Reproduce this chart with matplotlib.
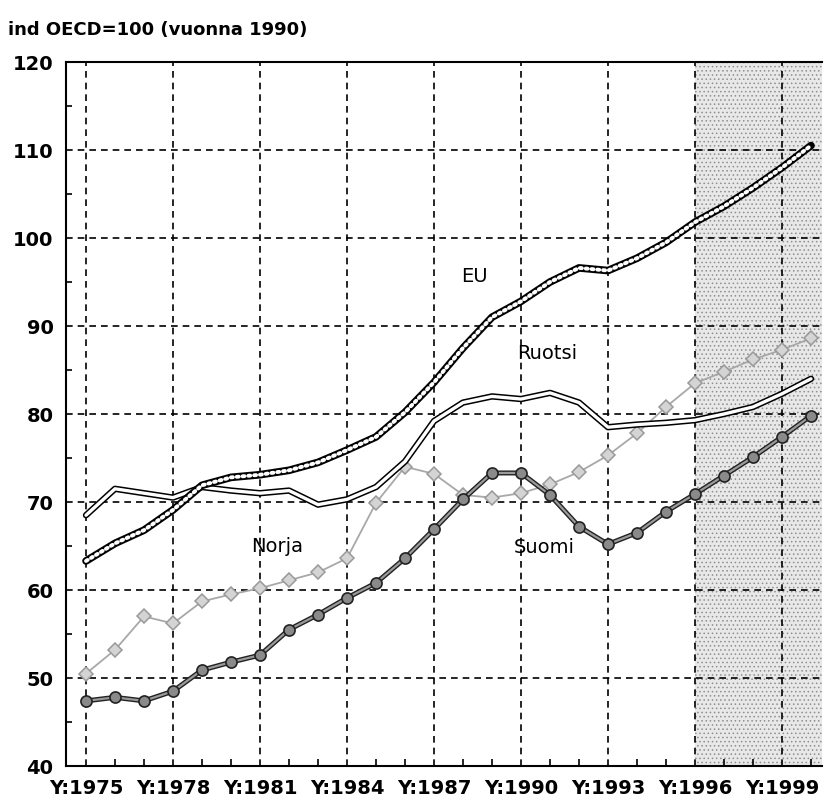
import matplotlib
matplotlib.use("Agg")
import matplotlib.pyplot as plt
from matplotlib.ticker import MultipleLocator

years = list(range(1975, 2001))
eu = [63.3, 65.3, 66.8, 69.1, 71.9, 72.8, 73.1, 73.6, 74.5, 75.9, 77.4, 80.2, 83.6,
      87.5, 91.0, 92.8, 95.0, 96.6, 96.3, 97.7, 99.5, 101.8, 103.6, 105.7, 108.0, 110.5]
ruotsi = [68.5, 71.5, 71.0, 70.5, 71.7, 71.3, 71.0, 71.3, 69.7, 70.3, 71.7, 74.6, 79.2,
          81.3, 82.0, 81.7, 82.4, 81.3, 78.5, 78.8, 79.0, 79.3, 80.0, 80.8, 82.3, 84.0]
norja = [50.5, 53.2, 57.0, 56.2, 58.7, 59.5, 60.2, 61.1, 62.0, 63.6, 69.9, 74.0, 73.2,
         70.8, 70.5, 71.0, 72.0, 73.4, 75.3, 77.8, 80.8, 83.5, 84.8, 86.2, 87.3, 88.6]
suomi = [47.4, 47.8, 47.4, 48.5, 50.9, 51.8, 52.6, 55.5, 57.2, 59.1, 60.8, 63.6, 66.9,
         70.3, 73.3, 73.3, 70.8, 67.2, 65.2, 66.5, 68.9, 70.9, 73.0, 75.1, 77.4, 79.8]
tick_years = [1975, 1978, 1981, 1984, 1987, 1990, 1993, 1996, 1999]
tick_labels = ["Y:" + str(y) for y in tick_years]
title = "ind OECD=100 (vuonna 1990)"
forecast_start = 1996

plt.rcParams['hatch.linewidth'] = 0.6
fig = plt.figure(figsize=(8.28, 8.09), dpi=100)
ax = fig.add_axes([66/828, 1-766/809, (822-66)/828, (766-62)/809])
xmin, xmax = 1974.31, 2000.38
ax.set_xlim(xmin, xmax)
ax.set_ylim(40, 120)

ax.axvspan(forecast_start, xmax, facecolor='#e8e8e8', edgecolor='#8f8f8f',
           hatch='....', lw=0, zorder=0)

for y in range(50, 120, 10):
    ax.axhline(y, color='black', lw=1.2, ls=(0, (4, 3)), zorder=1)
for x in tick_years:
    ax.axvline(x, color='black', lw=1.2, ls=(0, (4, 3)), zorder=1)

# EU: chain of white circles on black
ax.plot(years, eu, color='black', lw=5.5, solid_capstyle='round', zorder=5)
ax.plot(years, eu, color='white', lw=2.8, ls=(0, (0.5, 1.0)), dash_capstyle='round', zorder=6)
# Ruotsi: double line
ax.plot(years, ruotsi, color='black', lw=4.6, solid_capstyle='round', zorder=4)
ax.plot(years, ruotsi, color='white', lw=2.4, solid_capstyle='round', zorder=4.5)
# Norja: light gray diamonds
ax.plot(years, norja, color='#a8a8a8', lw=1.3, marker='D', ms=7.5,
        mfc='#d4d4d4', mec='#999999', mew=1.1, zorder=3)
# Suomi: dark gray circles
ax.plot(years, suomi, color='#222222', lw=3.6, zorder=3.5)
ax.plot(years, suomi, color='#9a9a9a', lw=1.6, marker='o', ms=8,
        mfc='#8a8a8a', mec='#222222', mew=1.2, zorder=3.6)

lab_kw = dict(fontsize=14, ha='center', va='center', color='black', zorder=7)
ax.text(1988.4, 95.6, "EU", **lab_kw)
ax.text(1990.9, 86.9, "Ruotsi", **lab_kw)
ax.text(1981.6, 64.9, "Norja", **lab_kw)
ax.text(1990.8, 64.8, "Suomi", **lab_kw)

ax.set_xticks(tick_years)
ax.set_xticklabels(tick_labels, fontsize=14, fontweight='bold')
ax.set_yticks(range(40, 121, 10))
ax.set_yticklabels([str(v) for v in range(40, 121, 10)], fontsize=14, fontweight='bold')
ax.xaxis.set_minor_locator(MultipleLocator(1))
ax.yaxis.set_minor_locator(MultipleLocator(5))
ax.tick_params(axis='x', which='major', direction='in', length=0, pad=9)
ax.tick_params(axis='y', which='major', direction='in', length=0, pad=9)
ax.tick_params(axis='x', which='minor', direction='in', length=5, width=1.2)
ax.tick_params(axis='y', which='minor', direction='in', length=4, width=1.2)
for s in ax.spines.values():
    s.set_linewidth(1.5)
ax.spines['right'].set_visible(False)

fig.text(8/828, 1-30/809, title, fontsize=13, fontweight='bold', ha='left', va='center')

fig.savefig("out.png", dpi=100)
